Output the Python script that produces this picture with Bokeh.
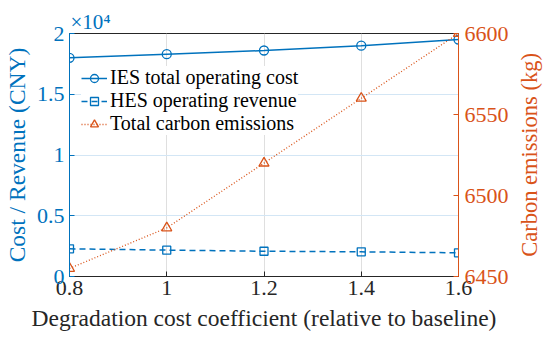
from bokeh.plotting import figure
from bokeh.layouts import row
from bokeh.models import Range1d, LinearAxis, FixedTicker, Legend, LegendItem
from bokeh.embed import file_html
from bokeh.resources import INLINE

x = [0.8, 1.0, 1.2, 1.4, 1.6]
ies_cost = [18000, 18300, 18600, 19000, 19500]
hes_revenue = [2280, 2170, 2080, 2030, 1950]
carbon = [6455, 6480, 6520, 6560, 6600]

x_ticks = [0.8, 1.0, 1.2, 1.4, 1.6]
x_tick_labels = ["0.8", "1", "1.2", "1.4", "1.6"]
left_ticks = [0, 5000, 10000, 15000, 20000]
left_tick_labels = ["0", "0.5", "1", "1.5", "2"]
right_ticks = [6450, 6500, 6550, 6600]

BLUE = "#0072BD"
ORANGE = "#D95319"
DARK = "#262626"
FONT = "Liberation Serif"

LEFT, TOP, FW, FH = 67, 33, 394, 243
MAIN_W, SIDE_W, H = 511, 39, 342
BOTTOM = H - TOP - FH

p = figure(width=MAIN_W, height=H, output_backend="svg", toolbar_location=None,
           x_range=Range1d(0.8, 1.6), y_range=Range1d(0, 20000),
           min_border_left=LEFT, min_border_right=MAIN_W - LEFT - FW,
           min_border_top=TOP, min_border_bottom=BOTTOM)
p.extra_y_ranges = {"carbon": Range1d(6450, 6600)}
p.background_fill_color = "white"
p.outline_line_color = DARK
p.outline_line_width = 1

p.title.text = "×10⁴"
p.title.text_font = FONT
p.title.text_font_size = "21px"
p.title.text_font_style = "normal"
p.title.text_color = BLUE
p.title.align = "left"
p.title.offset = 1
p.title.standoff = 0

# x axis
xa = p.xaxis[0]
xa.ticker = FixedTicker(ticks=x_ticks)
xa.major_label_overrides = {t: l for t, l in zip(x_ticks, x_tick_labels)}
xa.major_tick_in = 5
xa.major_tick_out = 0
xa.minor_tick_line_color = None
xa.axis_line_color = DARK
xa.major_tick_line_color = DARK
xa.major_label_text_font = FONT
xa.major_label_text_font_size = "22px"
xa.major_label_text_color = DARK
xa.major_label_standoff = 4
xa.axis_label = "Degradation cost coefficient (relative to baseline)"
xa.axis_label_text_font = FONT
xa.axis_label_text_font_size = "23.5px"
xa.axis_label_text_font_style = "normal"
xa.axis_label_text_color = DARK
xa.axis_label_standoff = 7

# left axis
ya = p.yaxis[0]
ya.ticker = FixedTicker(ticks=left_ticks)
ya.major_label_overrides = {t: l for t, l in zip(left_ticks, left_tick_labels)}
ya.major_tick_in = 5
ya.major_tick_out = 0
ya.minor_tick_line_color = None
ya.axis_line_color = BLUE
ya.major_tick_line_color = BLUE
ya.major_label_text_font = FONT
ya.major_label_text_font_size = "22px"
ya.major_label_text_color = BLUE
ya.major_label_standoff = 5
ya.axis_label = "Cost / Revenue (CNY)"
ya.axis_label_text_font = FONT
ya.axis_label_text_font_size = "23.5px"
ya.axis_label_text_font_style = "normal"
ya.axis_label_text_color = BLUE
ya.axis_label_standoff = 4

# right axis (ticks only)
ra = LinearAxis(y_range_name="carbon", ticker=FixedTicker(ticks=right_ticks))
ra.major_tick_in = 5
ra.major_tick_out = 0
ra.minor_tick_line_color = None
ra.axis_line_color = ORANGE
ra.major_tick_line_color = ORANGE
ra.major_label_text_font = FONT
ra.major_label_text_font_size = "22px"
ra.major_label_text_color = ORANGE
ra.major_label_standoff = 6
p.add_layout(ra, "right")

# grids
p.xgrid[0].ticker = FixedTicker(ticks=x_ticks)
p.xgrid[0].grid_line_color = "#dfdfdf"
p.ygrid[0].ticker = FixedTicker(ticks=left_ticks)
p.ygrid[0].grid_line_color = "#d3e6f5"

# series
r1 = p.line(x, ies_cost, line_color=BLUE, line_width=1.5)
m1 = p.scatter(x, ies_cost, marker="circle", size=9, line_color=BLUE, fill_color=None, line_width=1.3)
r2 = p.line(x, hes_revenue, line_color=BLUE, line_width=1.5, line_dash="6 4")
m2 = p.scatter(x, hes_revenue, marker="square", size=8, line_color=BLUE, fill_color=None, line_width=1.3)
r3 = p.line(x, carbon, line_color=ORANGE, line_width=1.3, line_dash="1 2", y_range_name="carbon")
m3 = p.scatter(x, carbon, marker="triangle", size=10, line_color=ORANGE, fill_color=None, line_width=1.3,
               y_range_name="carbon")

legend = Legend(items=[
    LegendItem(label="IES total operating cost", renderers=[r1, m1]),
    LegendItem(label="HES operating revenue", renderers=[r2, m2]),
    LegendItem(label="Total carbon emissions", renderers=[r3, m3]),
], location=(12, 141))
legend.border_line_color = None
legend.background_fill_color = "white"
legend.background_fill_alpha = 1
legend.label_text_font = FONT
legend.label_text_font_size = "20px"
legend.label_text_color = "black"
legend.glyph_width = 26
legend.glyph_height = 20
legend.label_height = 22
legend.spacing = 0
legend.padding = 2
legend.margin = 0
legend.label_standoff = 3
p.add_layout(legend, "center")

# side figure carrying the right axis title (reads bottom-to-top)
s = figure(width=SIDE_W, height=H, output_backend="svg", toolbar_location=None,
           x_range=Range1d(0, 1), y_range=Range1d(0, 1),
           min_border_left=SIDE_W - 1, min_border_right=0,
           min_border_top=TOP, min_border_bottom=BOTTOM)
s.outline_line_color = None
s.xaxis.visible = False
s.xgrid.visible = False
s.ygrid.visible = False
sa = s.yaxis[0]
sa.ticker = FixedTicker(ticks=[])
sa.axis_line_color = None
sa.major_tick_line_color = None
sa.minor_tick_line_color = None
sa.major_label_standoff = 0
sa.axis_label = "Carbon emissions (kg)"
sa.axis_label_text_font = FONT
sa.axis_label_text_font_size = "22.5px"
sa.axis_label_text_font_style = "normal"
sa.axis_label_text_color = ORANGE
sa.axis_label_standoff = 8

layout = row(p, s, spacing=0)
open("out.html", "w").write(file_html(layout, INLINE))
